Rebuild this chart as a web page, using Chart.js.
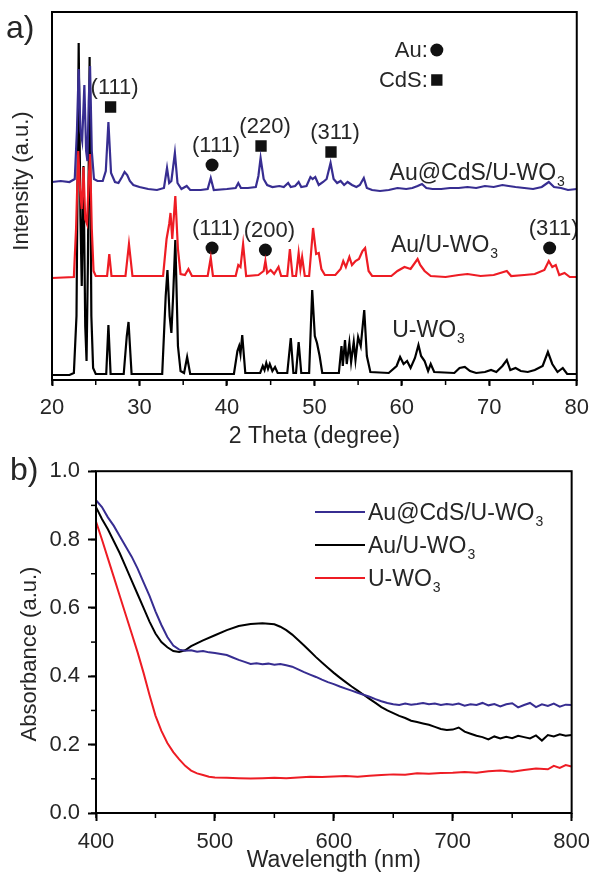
<!DOCTYPE html>
<html>
<head>
<meta charset="utf-8">
<script src="https://cdn.jsdelivr.net/npm/chart.js@4.4.0/dist/chart.umd.min.js"></script>
<style>
  html, body { margin: 0; padding: 0; background: #fff; }
  #wrap { position: relative; width: 598px; height: 874px; }
  #xrd { position: absolute; left: 0; top: 0; }
  #abs { position: absolute; left: 0; top: 450px; }
</style>
</head>
<body>
<div id="wrap">
  <canvas id="xrd" width="598" height="450"></canvas>
  <canvas id="abs" width="598" height="424"></canvas>
</div>
<script>
// ---- a) XRD patterns: [2theta, intensity above own baseline] ----
const xrdBlue = [[20,9],[21,10],[22,9],[22.6,12],[22.85,60],[23.05,122],[23.25,60],[23.45,50],[23.7,106],[23.9,40],[24.05,30],[24.2,90],[24.35,125],[24.55,40],[24.8,12],[25.2,10],[25.8,10],[26.15,20],[26.45,69],[26.75,18],[27.2,9],[27.6,8],[28.0,14],[28.3,19],[28.6,16],[28.9,10],[29.3,6],[30,4],[31,2],[32,1],[32.8,3],[33.15,23],[33.4,8],[33.65,10],[34.05,38],[34.35,8],[34.8,2],[35.4,5],[35.8,1],[37,1],[37.8,2],[38.15,13],[38.5,1],[40,2],[41,3],[41.3,8],[41.6,3],[42.4,3],[43.3,4],[43.6,15],[43.85,33],[44.2,12],[44.6,6],[45.2,4],[46,5],[46.5,4],[47,8],[47.3,4],[47.8,5],[48.2,9],[48.5,4],[49.1,5],[49.55,14],[49.8,12],[50.1,14],[50.5,6],[51,9],[51.4,12],[51.85,28],[52.2,12],[52.6,8],[53,10],[53.4,6],[53.8,9],[54.3,6],[54.8,4],[55.2,6],[55.65,13],[56,3],[56.6,1],[57.5,0],[58.5,1],[59.5,3],[60.5,2],[61.2,3],[61.8,5],[62.3,7],[62.8,3],[63.5,2],[64.5,2],[65.5,3],[66.5,3],[67.5,4],[68.5,3],[69.5,5],[70.5,4],[71.5,6],[72.2,5],[73,4],[74,3],[75,2],[76,4],[76.8,9],[77.4,4],[78.2,3],[79,1],[80,2]];
const xrdRed = [[20,1],[22.5,2],[22.75,50],[23.0,128],[23.2,90],[23.4,70],[23.6,112],[23.8,60],[24.0,55],[24.2,100],[24.35,125],[24.55,50],[24.75,8],[25,3],[26.3,3],[26.55,25],[26.8,3],[28.4,3],[28.8,35],[29.2,3],[32.7,3],[33.1,40],[33.4,55],[33.55,66],[33.75,40],[34.1,83],[34.4,30],[34.7,5],[35.2,4],[35.6,10],[36,3],[37.8,3],[38.15,21],[38.4,3],[41,3],[41.3,14],[41.55,12],[41.85,35],[42.2,3],[43.6,4],[44.2,8],[44.4,18],[44.6,6],[45,9],[45.4,5],[45.9,12],[46.2,3],[46.9,3],[47.2,30],[47.5,3],[47.9,3],[48.2,26],[48.4,10],[48.6,22],[48.9,3],[49.4,3],[49.85,51],[50.2,25],[50.5,26],[50.8,10],[51.2,4],[52.4,4],[53,10],[53.3,18],[53.6,12],[54,22],[54.3,14],[54.7,18],[55.1,20],[55.5,28],[55.8,31],[56.2,8],[56.6,3],[58.8,3],[59.5,8],[60.3,12],[61,10],[61.8,20],[62.1,14],[62.6,8],[63.3,3],[65,2],[66.5,4],[67.5,5],[69,3],[70.5,4],[72,8],[72.5,3],[74,4],[75.2,5],[76.3,9],[76.8,18],[77.2,12],[77.6,14],[78,4],[78.6,6],[79.2,2],[80,2]];
const xrdBlack = [[20,1],[21,1],[22,1],[22.5,3],[22.8,60],[23.05,333],[23.25,160],[23.4,90],[23.6,210],[23.8,50],[23.95,15],[24.1,110],[24.3,319],[24.5,60],[24.7,8],[25,2],[26.2,2],[26.45,51],[26.7,2],[28.2,2],[28.55,40],[28.75,54],[29.1,2],[32.6,2],[33,80],[33.2,106],[33.45,60],[33.65,43],[33.85,80],[34.1,136],[34.4,30],[34.7,5],[35.1,3],[35.45,19],[35.8,2],[40.8,2],[41.2,25],[41.4,30],[41.55,22],[41.75,41],[42.1,3],[43.8,3],[44.1,10],[44.3,6],[44.5,13],[44.7,7],[44.9,12],[45.2,5],[45.5,9],[45.8,3],[46.9,3],[47.3,38],[47.6,3],[47.9,3],[48.2,34],[48.5,3],[49.4,3],[49.75,86],[50.05,40],[50.3,33],[50.6,20],[50.9,3],[52.8,3],[53.1,30],[53.25,10],[53.5,36],[53.7,12],[54,33],[54.2,14],[54.5,34],[54.7,16],[55,39],[55.3,30],[55.7,66],[56,20],[56.4,4],[58.5,3],[59.4,10],[59.8,19],[60.2,12],[60.6,15],[61,8],[61.5,18],[61.9,31],[62.2,20],[62.6,15],[63,5],[63.3,12],[63.7,4],[66,3],[66.6,8],[67.2,9],[67.8,5],[68.5,3],[69.5,4],[70.2,6],[70.8,4],[71.5,10],[72,16],[72.4,6],[73,8],[73.6,5],[74.4,4],[75.2,6],[76.1,10],[76.7,24],[77.2,12],[77.8,4],[78.4,8],[78.9,2],[80,2]];
// stacking offsets of the three patterns
const blueOffset = 189;
const redOffset = 101;
const blackOffset = 4;

// peak markers [2theta, level]
const cdsPeaks = [{ hkl: '(111)', x: 26.7, y: 273 }, { hkl: '(220)', x: 43.9, y: 234 }, { hkl: '(311)', x: 51.9, y: 228 }];
const auPeaks = [{ hkl: '(111)', x: 38.3, y: 215 }, { hkl: '(111)', x: 38.3, y: 132 }, { hkl: '(200)', x: 44.4, y: 130 }, { hkl: '(311)', x: 76.9, y: 132 }];
const keyItems = [{ text: 'Au:', x: 64, y: 330 }, { text: 'CdS:', x: 64, y: 300 }];
const sampleNames = ['Au@CdS/U-WO', 'Au/U-WO', 'U-WO'];
const sampleLabelPos = [[58.6, 200], [58.75, 128], [58.9, 43]];

// ---- b) absorbance spectra: [wavelength, absorbance] ----
const absBlue = [[400,0.915],[405,0.895],[410,0.865],[415,0.84],[420,0.81],[425,0.78],[430,0.75],[435,0.715],[440,0.675],[445,0.635],[450,0.59],[455,0.55],[460,0.515],[465,0.49],[470,0.478],[475,0.475],[480,0.476],[485,0.472],[490,0.474],[495,0.47],[500,0.468],[505,0.465],[510,0.462],[515,0.455],[520,0.448],[525,0.442],[530,0.436],[535,0.438],[540,0.435],[545,0.437],[550,0.434],[555,0.436],[560,0.432],[565,0.428],[570,0.42],[575,0.412],[580,0.405],[585,0.398],[590,0.39],[595,0.383],[600,0.377],[605,0.37],[610,0.364],[615,0.358],[620,0.352],[625,0.346],[630,0.34],[635,0.333],[640,0.327],[645,0.322],[650,0.318],[655,0.316],[660,0.32],[665,0.317],[670,0.319],[675,0.322],[680,0.318],[685,0.32],[690,0.316],[695,0.319],[700,0.317],[705,0.32],[710,0.314],[715,0.318],[720,0.316],[725,0.322],[730,0.315],[735,0.319],[740,0.312],[745,0.318],[750,0.321],[755,0.309],[760,0.316],[765,0.322],[770,0.31],[775,0.318],[780,0.313],[785,0.32],[790,0.311],[795,0.317],[800,0.316]];
const absBlack = [[400,0.895],[405,0.86],[410,0.83],[415,0.795],[420,0.76],[425,0.72],[430,0.68],[435,0.64],[440,0.6],[445,0.56],[450,0.525],[455,0.5],[460,0.485],[465,0.474],[470,0.471],[475,0.476],[480,0.488],[490,0.505],[500,0.52],[510,0.535],[520,0.547],[530,0.553],[540,0.555],[550,0.552],[555,0.545],[560,0.535],[565,0.522],[570,0.506],[575,0.49],[580,0.473],[585,0.456],[590,0.44],[595,0.425],[600,0.41],[605,0.396],[610,0.383],[615,0.37],[620,0.358],[625,0.346],[630,0.334],[635,0.322],[640,0.31],[645,0.3],[650,0.292],[655,0.284],[660,0.278],[665,0.27],[670,0.266],[675,0.262],[680,0.258],[685,0.252],[690,0.246],[695,0.243],[700,0.244],[705,0.25],[710,0.238],[715,0.232],[720,0.226],[725,0.222],[730,0.215],[735,0.224],[740,0.218],[745,0.223],[750,0.219],[755,0.226],[760,0.222],[765,0.218],[770,0.227],[775,0.212],[780,0.228],[785,0.224],[790,0.23],[795,0.226],[800,0.228]];
const absRed = [[400,0.853],[405,0.8],[410,0.745],[415,0.69],[420,0.635],[425,0.58],[430,0.525],[435,0.47],[440,0.41],[445,0.345],[450,0.285],[455,0.24],[460,0.205],[465,0.178],[470,0.157],[475,0.138],[480,0.124],[485,0.116],[490,0.111],[495,0.106],[500,0.104],[510,0.103],[520,0.102],[530,0.101],[540,0.102],[550,0.103],[560,0.102],[570,0.104],[580,0.106],[590,0.105],[600,0.107],[610,0.108],[620,0.106],[630,0.109],[640,0.111],[650,0.113],[660,0.112],[670,0.116],[680,0.115],[690,0.117],[700,0.118],[710,0.12],[720,0.118],[730,0.122],[740,0.124],[750,0.121],[760,0.126],[770,0.13],[780,0.128],[785,0.138],[790,0.132],[795,0.14],[800,0.136]];

const BLUE = '#372d91';
const RED = '#ee1c24';
const BLACK = '#000000';
const TEXT = '#262626';
const FONT = '"Liberation Sans", Arial, sans-serif';

Chart.defaults.font.family = FONT;
Chart.defaults.font.size = 22;
Chart.defaults.color = TEXT;

function toXY(arr, off) {
    return arr.map(p => ({ x: p[0], y: p[1] + (off || 0) }));
}

// text with a subscript "3"
function writeSub(ctx, text, sub, x, y, size) {
    ctx.textAlign = 'left';
    ctx.font = size + 'px ' + FONT;
    ctx.fillText(text, x, y);
    const w = ctx.measureText(text).width;
    ctx.font = Math.round(size * 0.6) + 'px ' + FONT;
    ctx.fillText(sub, x + w + 1, y + 6);
}

// frame round the plot + minor ticks
const frameAndTicks = {
    id: 'frameAndTicks',
    afterDraw(chart, args, opts) {
        const { ctx, chartArea: a } = chart;
        ctx.save();
        ctx.strokeStyle = '#000';
        ctx.lineWidth = 1.5;
        (opts.minor || []).forEach(m => {
            const s = chart.scales[m.axis];
            for (let v = s.min; v <= s.max + 1e-9; v += m.step) {
                const px = s.getPixelForValue(v);
                ctx.beginPath();
                if (s.isHorizontal()) { ctx.moveTo(px, a.bottom); ctx.lineTo(px, a.bottom + m.length); }
                else { ctx.moveTo(a.left, px); ctx.lineTo(a.left - m.length, px); }
                ctx.stroke();
            }
        });
        ctx.lineWidth = 2;
        ctx.strokeRect(a.left, a.top, a.right - a.left, a.bottom - a.top);
        // panel letter and rotated y title
        ctx.fillStyle = TEXT;
        ctx.font = '32px ' + FONT;
        ctx.textAlign = 'left';
        ctx.fillText(opts.letter, opts.letterPos[0], opts.letterPos[1]);
        ctx.translate(opts.yTitlePos[0], opts.yTitlePos[1]);
        ctx.rotate(-Math.PI / 2);
        ctx.font = '22px ' + FONT;
        ctx.textAlign = 'center';
        ctx.textBaseline = 'middle';
        ctx.fillText(opts.yTitle, 0, 0);
        ctx.restore();
    }
};

const xrdText = {
    id: 'xrdText',
    afterDatasetsDraw(chart) {
        const { ctx } = chart;
        const sx = chart.scales.x, sy = chart.scales.y;
        ctx.save();
        ctx.fillStyle = TEXT;
        ctx.font = '22px ' + FONT;
        ctx.textAlign = 'center';
        cdsPeaks.concat(auPeaks).forEach(p => {
            ctx.fillText(p.hkl, sx.getPixelForValue(p.x) + 4, sy.getPixelForValue(p.y) - 13);
        });
        ctx.textAlign = 'right';
        keyItems.forEach(k => {
            ctx.fillText(k.text, sx.getPixelForValue(k.x) - 9, sy.getPixelForValue(k.y) + 7);
        });
        sampleNames.forEach((n, i) => {
            writeSub(ctx, n, '3', sx.getPixelForValue(sampleLabelPos[i][0]), sy.getPixelForValue(sampleLabelPos[i][1]), 23);
        });
        ctx.restore();
    }
};

const absLegend = {
    id: 'absLegend',
    afterDraw(chart) {
        const { ctx } = chart;
        ctx.save();
        chart.data.datasets.forEach((ds, i) => {
            const yy = 62 + i * 33;
            ctx.strokeStyle = ds.borderColor;
            ctx.lineWidth = 2;
            ctx.beginPath();
            ctx.moveTo(315, yy);
            ctx.lineTo(365, yy);
            ctx.stroke();
            ctx.fillStyle = TEXT;
            writeSub(ctx, sampleNames[i], '3', 368, yy + 8, 23);
        });
        ctx.restore();
    }
};

new Chart(document.getElementById('xrd'), {
    type: 'line',
    data: {
        datasets: [
            { label: 'Au@CdS/U-WO3', data: toXY(xrdBlue, blueOffset), borderColor: BLUE },
            { label: 'Au/U-WO3', data: toXY(xrdRed, redOffset), borderColor: RED },
            { label: 'U-WO3', data: toXY(xrdBlack, blackOffset), borderColor: BLACK },
            { type: 'scatter', label: 'CdS', data: toXY(cdsPeaks.map(p => [p.x, p.y]).concat([[keyItems[1].x, keyItems[1].y]])),
              pointStyle: 'rect', pointRadius: 8, backgroundColor: '#111', borderWidth: 0 },
            { type: 'scatter', label: 'Au', data: toXY(auPeaks.map(p => [p.x, p.y]).concat([[keyItems[0].x, keyItems[0].y]])),
              pointStyle: 'circle', pointRadius: 6.5, backgroundColor: '#111', borderWidth: 0 }
        ]
    },
    options: {
        responsive: false,
        animation: false,
        events: [],
        layout: { padding: { top: 12, right: 18, left: 0, bottom: 0 } },
        elements: { point: { radius: 0 }, line: { tension: 0, borderWidth: 2.2 } },
        plugins: {
            legend: { display: false },
            tooltip: { enabled: false },
            frameAndTicks: { minor: [{ axis: 'x', step: 5, length: 5 }], letter: 'a)', letterPos: [6, 38], yTitle: 'Intensity (a.u.)', yTitlePos: [22, 181] }
        },
        scales: {
            x: {
                type: 'linear', min: 20, max: 80,
                border: { display: false },
                grid: { drawOnChartArea: false, drawTicks: true, tickLength: 6, tickColor: '#000', tickWidth: 2 },
                ticks: { stepSize: 10, padding: 9, maxRotation: 0, autoSkip: false, color: TEXT },
                title: { display: true, text: '2 Theta (degree)', font: { size: 23 }, color: TEXT, padding: 0 },
                afterFit(s) { s.height = 70; }
            },
            y: {
                min: 0, max: 368,
                border: { display: false },
                grid: { display: false },
                ticks: { display: false },
                afterFit(s) { s.width = 52; }
            }
        }
    },
    plugins: [frameAndTicks, xrdText]
});

new Chart(document.getElementById('abs'), {
    type: 'line',
    data: {
        datasets: [
            { label: 'Au@CdS/U-WO3', data: toXY(absBlue), borderColor: BLUE },
            { label: 'Au/U-WO3', data: toXY(absBlack), borderColor: BLACK },
            { label: 'U-WO3', data: toXY(absRed), borderColor: RED }
        ]
    },
    options: {
        responsive: false,
        animation: false,
        events: [],
        layout: { padding: { top: 10, right: 21, left: 0, bottom: 0 } },
        elements: { point: { radius: 0 }, line: { tension: 0, borderWidth: 2 } },
        plugins: {
            legend: { display: false },
            tooltip: { enabled: false },
            frameAndTicks: { minor: [{ axis: 'x', step: 50, length: 5 }, { axis: 'y', step: 0.1, length: 5 }], letter: 'b)', letterPos: [10, 30], yTitle: 'Absorbance (a.u.)', yTitlePos: [30, 204] }
        },
        scales: {
            x: {
                type: 'linear', min: 400, max: 800,
                border: { display: false },
                grid: { drawOnChartArea: false, drawTicks: true, tickLength: 8, tickColor: '#000', tickWidth: 2 },
                ticks: { stepSize: 100, padding: 8, maxRotation: 0, autoSkip: false, color: TEXT },
                title: { display: true, text: 'Wavelength (nm)', font: { size: 23 }, color: TEXT, padding: 0 },
                afterFit(s) { s.height = 61; }
            },
            y: {
                min: 0, max: 1,
                border: { display: false },
                grid: { drawOnChartArea: false, drawTicks: true, tickLength: 8, tickColor: '#000', tickWidth: 2 },
                ticks: { stepSize: 0.2, padding: 8, color: TEXT, callback: v => v.toFixed(1) },
                afterFit(s) { s.width = 96; }
            }
        }
    },
    plugins: [frameAndTicks, absLegend]
});
</script>
</body>
</html>
